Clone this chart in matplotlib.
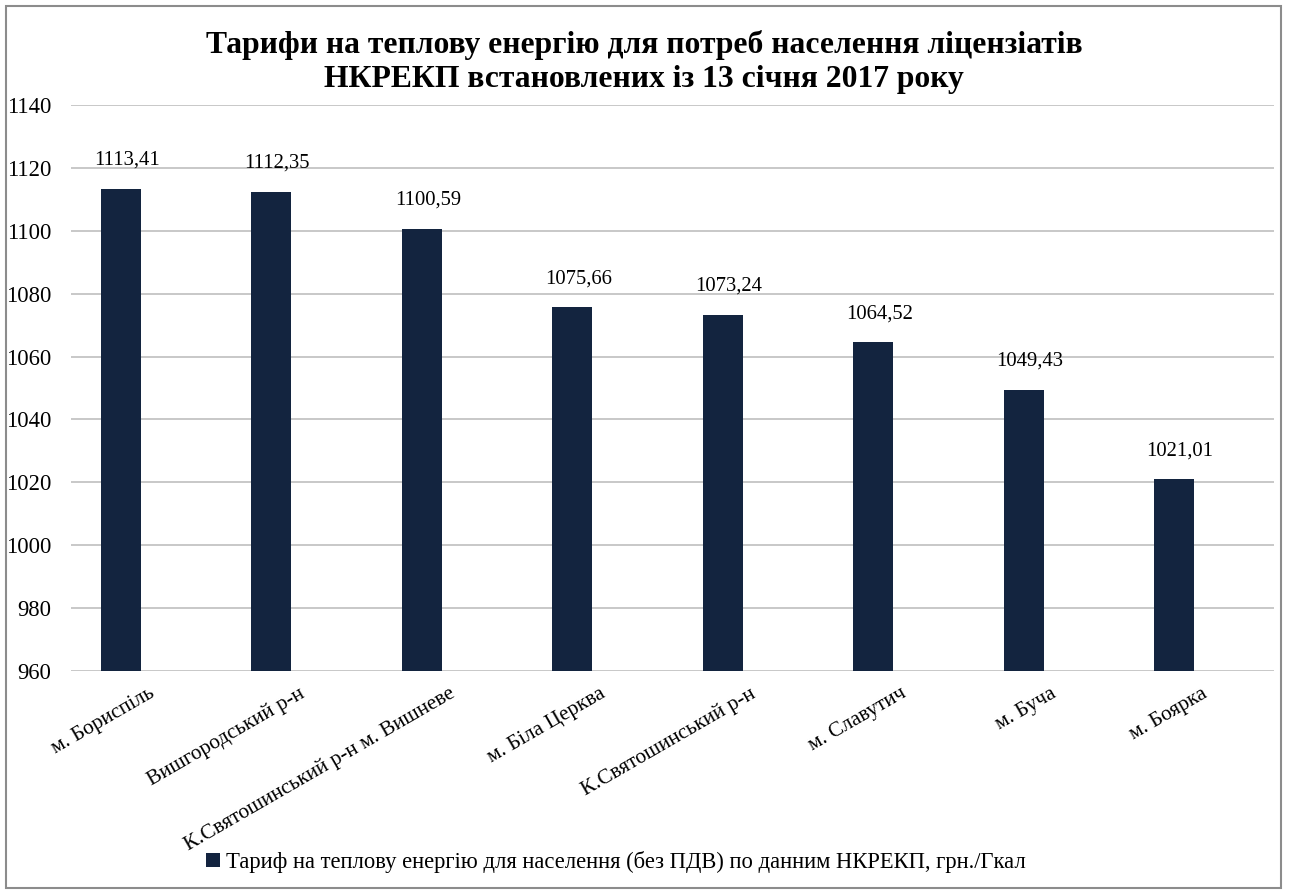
import matplotlib
matplotlib.use("Agg")
import matplotlib.pyplot as plt
from matplotlib.patches import Rectangle
from matplotlib.transforms import offset_copy

categories = ["м. Бориспіль", "Вишгородський р-н", "К.Святошинський р-н м. Вишневе",
              "м. Біла Церква", "К.Святошинський р-н", "м. Славутич", "м. Буча", "м. Боярка"]
values = [1113.41, 1112.35, 1100.59, 1075.66, 1073.24, 1064.52, 1049.43, 1021.01]
yticks = [960, 980, 1000, 1020, 1040, 1060, 1080, 1100, 1120, 1140]
title = "Тарифи на теплову енергію для потреб населення ліцензіатів\nНКРЕКП встановлених із 13 січня 2017 року"
legend_label = "Тариф на теплову енергію для населення (без ПДВ) по данним НКРЕКП, грн./Гкал"

plt.rcParams['font.family'] = ['Liberation Serif', 'DejaVu Serif']

W, H = 1289, 891
fig = plt.figure(figsize=(W/100, H/100), dpi=100)
ax = fig.add_axes([71/W, 1-671/H, (1274-71)/W, (671-105)/H])

color = "#13243F"
x = list(range(len(values)))
bars = ax.bar(x, values, width=0.265, color=color, zorder=3, label=legend_label)
ax.set_ylim(960, 1140)
ax.set_xlim(-0.332, 7.664)
ax.set_yticks(yticks)
ax.set_yticklabels([str(t) for t in yticks], fontsize=16.3)
ax.tick_params(axis='y', length=0, pad=14)
ax.tick_params(axis='x', length=0)
ax.grid(axis='y', color="#BFBFBF", linewidth=1.2, zorder=0)
for s in ax.spines.values():
    s.set_visible(False)

ax.set_xticks(x)
ax.set_xticklabels([])
for xi, lab in zip(x, categories):
    tr = offset_copy(ax.get_xaxis_transform(), fig=fig, x=27, y=-13, units='dots')
    ax.text(xi, 0, lab, transform=tr, rotation=30, rotation_mode='anchor',
            ha='right', va='top', fontsize=15.3)

for xi, v in zip(x, values):
    tr = offset_copy(ax.transData, fig=fig, x=6, y=19, units='dots')
    ax.text(xi, v, f"{v:.2f}".replace('.', ','), transform=tr, ha='center', va='bottom', fontsize=14.9)

fig.text(644/W, 1-62/H, title, ha='center', va='center', fontsize=22.8, fontweight='bold', linespacing=1.25)

fig.legend(handles=[bars], labels=[legend_label], loc='center', bbox_to_anchor=(616/W, 1-862/H),
           frameon=False, fontsize=16.3, handlelength=0.6, handleheight=0.6, handletextpad=0.3)

fig.patches.append(Rectangle((6/W, 3/H), (1281-6)/W, (885-3)/H, transform=fig.transFigure,
                             fill=False, edgecolor="#8C8C8C", linewidth=1.5))

fig.savefig("out.png", dpi=100)
